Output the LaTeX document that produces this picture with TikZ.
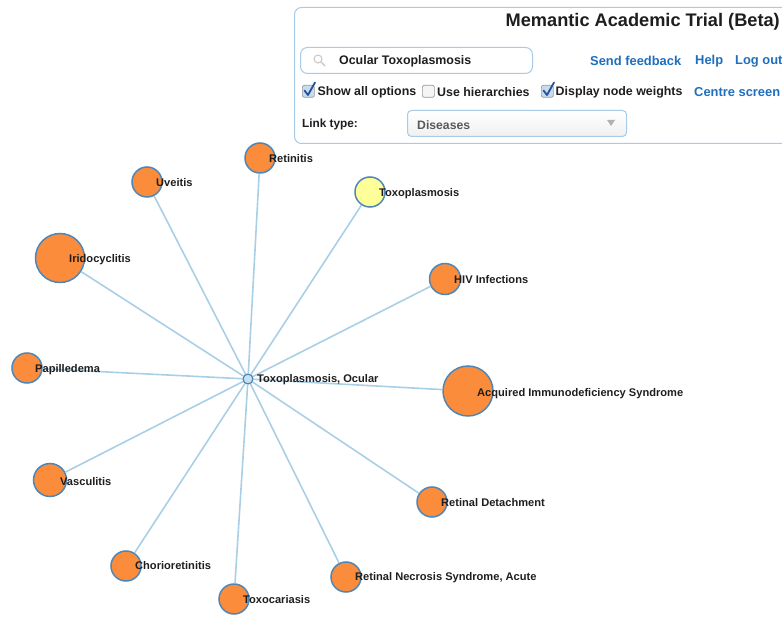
\documentclass[tikz,border=0pt]{standalone}
\usepackage{fontspec}
\setmainfont{Liberation Sans}
\definecolor{edgec}{RGB}{169,207,230}
\definecolor{nodeb}{RGB}{79,134,184}
\definecolor{orangec}{RGB}{250,140,60}
\definecolor{yellowc}{RGB}{255,255,153}
\definecolor{centrec}{RGB}{201,223,242}
\definecolor{panelb}{RGB}{168,203,232}
\definecolor{linkc}{RGB}{31,111,191}
\definecolor{txt}{RGB}{30,30,30}
\definecolor{checkc}{RGB}{40,80,150}
\definecolor{cbfill}{RGB}{200,220,240}
\begin{document}
\begin{tikzpicture}[x=1pt,y=-1pt,
  edge/.style={draw=edgec, line width=1.6pt},
  dnode/.style={circle, draw=nodeb, line width=1.5pt, fill=orangec, inner sep=0pt},
  lbl/.style={anchor=west, inner sep=0pt, text=txt, font=\fontsize{11.1}{12}\selectfont\bfseries},
  ui/.style={anchor=west, inner sep=0pt, text=txt, font=\fontsize{12.4}{14}\selectfont\bfseries},
  link/.style={anchor=west, inner sep=0pt, text=linkc, font=\fontsize{12.9}{14}\selectfont\bfseries},
  cbox/.style={draw=gray!80, rounded corners=2pt, line width=0.7pt, fill=gray!8, minimum size=12pt, inner sep=0pt, anchor=north west},
  check/.style={draw=checkc, line width=1.8pt, line cap=round, line join=round}
]
\useasboundingbox (0,0) rectangle (782,617);
\clip (0,0) rectangle (782,617);

% ---- graph nodes ----
\node[circle, draw=nodeb, line width=1.3pt, fill=centrec, inner sep=0pt, minimum size=10pt] (c) at (248,379) {};
\node[dnode, minimum size=30pt] (ret) at (260,158) {};
\node[dnode, minimum size=30pt] (uve) at (147,182) {};
\node[dnode, minimum size=30pt, fill=yellowc] (tox) at (370,192) {};
\node[dnode, minimum size=49pt] (iri) at (60,258) {};
\node[dnode, minimum size=31pt] (hiv) at (445,279) {};
\node[dnode, minimum size=30pt] (pap) at (27,368) {};
\node[dnode, minimum size=50pt] (aids) at (468,391) {};
\node[dnode, minimum size=33pt] (vas) at (50,480) {};
\node[dnode, minimum size=30pt] (rdet) at (432,502) {};
\node[dnode, minimum size=30pt] (cho) at (126,566) {};
\node[dnode, minimum size=30pt] (rnec) at (346,577) {};
\node[dnode, minimum size=30pt] (toxo) at (234,599) {};

% ---- edges ----
\foreach \n in {ret,uve,tox,iri,hiv,pap,aids,vas,rdet,cho,rnec,toxo}
  \draw[edge] (c) -- (\n);

% ---- labels ----
\node[lbl] (lc) at (257,380) {Toxoplasmosis, Ocular};
\node[lbl] (lret) at (269,159) {Retinitis};
\node[lbl] (luve) at (156,183) {Uveitis};
\node[lbl] (ltox) at (379,194) {Toxoplasmosis};
\node[lbl] (liri) at (69,260) {Iridocyclitis};
\node[lbl] (lhiv) at (454,280) {HIV Infections};
\node[lbl] (lpap) at (35,370) {Papilledema};
\node[lbl] (laids) at (477,394) {Acquired Immunodeficiency Syndrome};
\node[lbl] (lvas) at (60,482) {Vasculitis};
\node[lbl] (lrdet) at (441,503) {Retinal Detachment};
\node[lbl] (lcho) at (135,566) {Chorioretinitis};
\node[lbl] (lrnec) at (355,578) {Retinal Necrosis Syndrome, Acute};
\node[lbl] (ltoxo) at (243,600) {Toxocariasis};

% ---- top panel ----
\node[draw=panelb, line width=1pt, rounded corners=7pt, fill=white, minimum width=500pt, minimum height=136pt, anchor=north west, inner sep=0pt] (panel) at (294,7) {};
\node[anchor=east, inner sep=0pt, text=txt, font=\fontsize{18.2}{20}\selectfont\bfseries] (title) at (780,22) {Memantic Academic Trial (Beta)};

\node[draw=panelb, line width=1pt, rounded corners=7pt, fill=white, minimum width=232pt, minimum height=26pt, anchor=north west, inner sep=0pt] (search) at (300,47) {};
\draw[gray!45, line width=1pt] (318,59) circle (4pt);
\draw[gray!45, line width=1.4pt, line cap=round] (321,62) -- (325,66);
\node[anchor=west, inner sep=0pt, text=txt, font=\fontsize{12.4}{14}\selectfont\bfseries] (stext) at (339,61) {Ocular Toxoplasmosis};

\node[link] (fb) at (590,61) {Send feedback};
\node[link] (help) at (695,61) {Help};
\node[link] (logout) at (735,61) {Log out};

\node[cbox, fill=cbfill] (cb1) at (302,85) {};
\draw[check] (304.5,90.5) -- (308,95) -- (315,82.5);
\node[ui] (opt1) at (317.5,92) {Show all options};
\node[cbox] (cb2) at (422,85) {};
\node[ui] (opt2) at (437,92) {Use hierarchies};
\node[cbox, fill=cbfill] (cb3) at (541,85) {};
\draw[check] (543.5,90.5) -- (547,95) -- (554,82.5);
\node[ui] (opt3) at (555.5,92) {Display node weights};
\node[link] (centre) at (694,92) {Centre screen};

\node[ui, font=\fontsize{11.8}{14}\selectfont\bfseries] (ltype) at (302,124) {Link type:};
\node[draw=panelb, line width=1pt, rounded corners=4pt, top color=white, bottom color=gray!12, minimum width=219pt, minimum height=26pt, anchor=north west, inner sep=0pt] (dd) at (407,110) {};
\node[anchor=west, inner sep=0pt, text=gray!70!black, font=\fontsize{12.2}{14}\selectfont\bfseries] (ddtext) at (417,125) {Diseases};
\fill[gray!60] (607,120) -- (615,120) -- (611,126) -- cycle;
\end{tikzpicture}
\end{document}
